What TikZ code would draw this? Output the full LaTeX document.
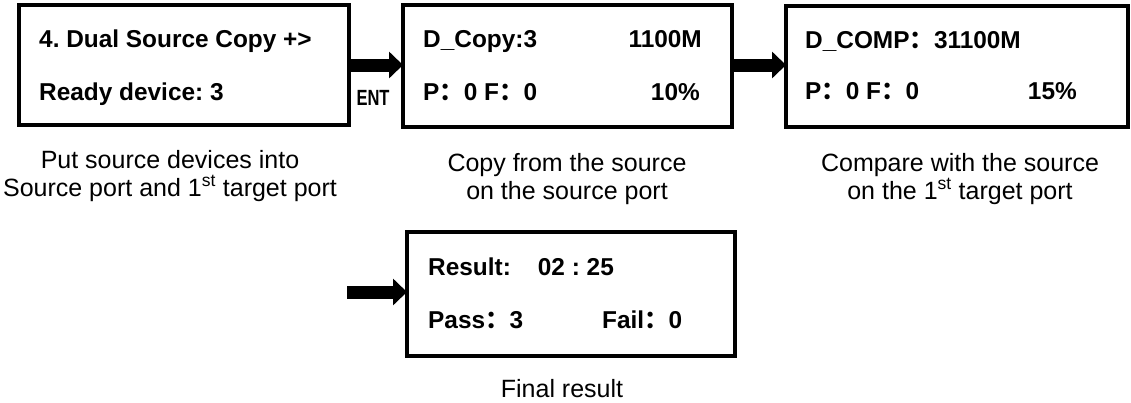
\documentclass[tikz,border=0pt]{standalone}
\usepackage{fontspec}
\setmainfont{Liberation Sans}
\newfontfamily\cjk{Noto Sans CJK SC}
\usetikzlibrary{arrows.meta}
\newcommand{\fc}{{\cjk ：}}
\frenchspacing
\begin{document}
\begin{tikzpicture}[x=1pt,y=-1pt,
  lcd/.style={draw,line width=4pt,inner sep=0pt,outer sep=0pt},
  lcdtxt/.style={inner sep=0pt,font=\fontsize{24.4}{29}\selectfont\bfseries},
  caption/.style={inner sep=0pt,align=center,font=\fontsize{25}{28}\selectfont},
  bigarrow/.style={line width=13pt,-{Triangle[length=14pt,width=26pt]}}]
\useasboundingbox (0,0) rectangle (1131,402);
% boxes
\node[lcd,minimum width=330pt,minimum height=120pt] (b1) at (184,65.2) {};
\node[lcd,minimum width=329pt,minimum height=122pt] (b2) at (567.5,65.7) {};
\node[lcd,minimum width=342pt,minimum height=121pt] (b3) at (957,66) {};
\node[lcd,minimum width=328pt,minimum height=124pt] (b4) at (571,294) {};
% box 1 text
\node[lcdtxt,anchor=base west] (t11) at (39,47) {4. Dual Source Copy +>};
\node[lcdtxt,anchor=base west] (t12) at (39,100) {Ready device: 3};
% box 2 text
\node[lcdtxt,anchor=base west] (t21) at (423,47) {D\_Copy:3};
\node[lcdtxt,anchor=base east] (t22) at (702,47) {1100M};
\node[lcdtxt,anchor=base west] (t23) at (423,100) {P\fc0 F\fc0};
\node[lcdtxt,anchor=base east] (t24) at (700,100) {10\%};
% box 3 text
\node[lcdtxt,anchor=base west] (t31) at (805,48) {D\_COMP\fc31100M};
\node[lcdtxt,anchor=base west] (t32) at (805,99) {P\fc0 F\fc0};
\node[lcdtxt,anchor=base east] (t33) at (1077,99) {15\%};
% box 4 text
\node[lcdtxt,anchor=base west] (t41) at (428,275) {Result:\hspace{27pt}02 : 25};
\node[lcdtxt,anchor=base west] (t42) at (428,328) {Pass\fc3};
\node[lcdtxt,anchor=base west] (t43) at (602,328) {Fail\fc0};
% arrows
\draw[bigarrow] (b1.east |- 0,65) -- (b2.west |- 0,65);
\draw[bigarrow] (b2.east |- 0,65) -- (b3.west |- 0,65);
\coordinate (a3) at (347,292);
\draw[bigarrow] (a3) -- (a3 -| b4.west);
\node[inner sep=0pt,xscale=0.75,font=\fontsize{22}{24}\selectfont\bfseries] (ent) at (373,98) {ENT};
% captions (base = last line)
\node[caption,anchor=base] (c1) at (170,196) {Put source devices into\\Source port and 1\textsuperscript{st} target port};
\node[caption,anchor=base] (c2) at (567,199) {Copy from the source\\on the source port};
\node[caption,anchor=base] (c3) at (960,199) {Compare with the source\\on the 1\textsuperscript{st} target port};
\node[caption,anchor=base] (c4) at (562,397) {Final result};
\end{tikzpicture}
\end{document}
